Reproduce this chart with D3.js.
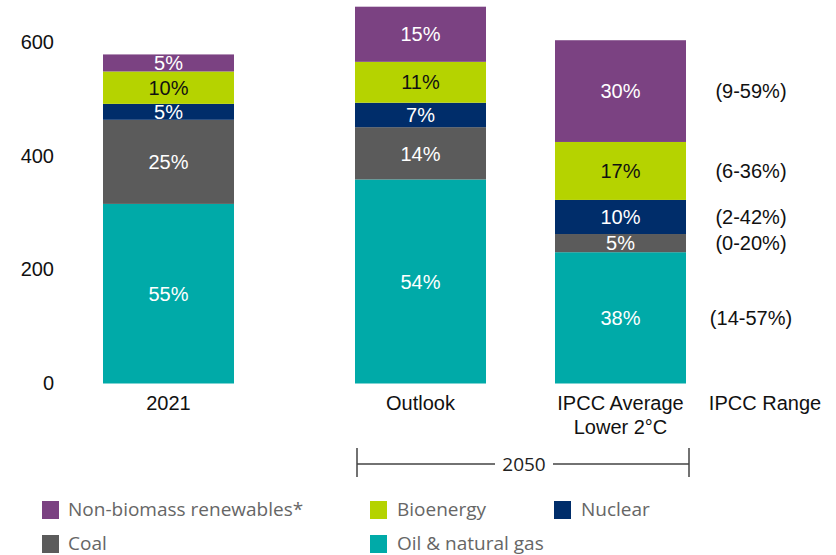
<!DOCTYPE html>
<html>
<head>
<meta charset="utf-8">
<script src="https://cdn.jsdelivr.net/npm/d3@7"></script>
<style>
  body { margin: 0; background: #fff; }
  svg { display: block; }
</style>
</head>
<body>
<div class="chart"></div>
<script>
// values (stacked bottom to top)
const categories = ["2021", "Outlook", "IPCC Average Lower 2°C"];
const oilGas     = [316, 359, 231];
const coal       = [148, 92, 32];
const nuclear    = [28, 43, 60];
const bioenergy  = [57, 72, 102];
const renewables = [30, 97, 179];

const oilGasPct     = ["55%", "54%", "38%"];
const coalPct       = ["25%", "14%", "5%"];
const nuclearPct    = ["5%", "7%", "10%"];
const bioenergyPct  = ["10%", "11%", "17%"];
const renewablesPct = ["5%", "15%", "30%"];

const ipccRange = ["(14-57%)", "(0-20%)", "(2-42%)", "(6-36%)", "(9-59%)"];
const yTicks = [0, 200, 400, 600];

const seriesNames = ["Oil & natural gas", "Coal", "Nuclear", "Bioenergy", "Non-biomass renewables*"];
const seriesValues = [oilGas, coal, nuclear, bioenergy, renewables];
const seriesPct = [oilGasPct, coalPct, nuclearPct, bioenergyPct, renewablesPct];
const colors = ["#00aaa8", "#5b5b5b", "#002d6a", "#b5d300", "#7b4282"];
const labelColors = ["#fff", "#fff", "#fff", "#111", "#fff"];

const width = 836, height = 555;
const font = "'Liberation Sans', Arial, sans-serif";
const legendFont = "'Open Sans', 'Noto Sans', sans-serif";

const svg = d3.select(".chart").append("svg")
    .attr("width", width)
    .attr("height", height);

const y = d3.scaleLinear().domain([0, 600]).range([383.5, 42.5]);
const xCenter = d3.scaleOrdinal().domain(categories).range([168.5, 420.5, 620.5]);
const barWidth = 131;
const rangeX = 751;

// stack the rows
const table = categories.map((c, i) => {
    const row = { cat: c };
    seriesNames.forEach((s, j) => row[s] = seriesValues[j][i]);
    return row;
});
const stacked = d3.stack().keys(seriesNames)(table);

// y axis labels only
svg.append("g")
    .attr("transform", "translate(54,0)")
    .call(d3.axisLeft(y).tickValues(yTicks).tickSize(0).tickPadding(0))
    .call(g => g.select(".domain").remove())
    .call(g => g.selectAll("text")
        .attr("dy", "0.3em")
        .attr("font-family", font)
        .attr("font-size", 20)
        .attr("fill", "#111"));

// bars
const layer = svg.append("g")
    .selectAll("g")
    .data(stacked)
    .join("g")
    .attr("fill", (d, i) => colors[i]);

layer.selectAll("rect")
    .data(d => d)
    .join("rect")
    .attr("x", d => xCenter(d.data.cat) - barWidth / 2)
    .attr("y", d => y(d[1]))
    .attr("width", barWidth)
    .attr("height", d => y(d[0]) - y(d[1]));

// share labels inside segments
stacked.forEach((s, i) => {
    svg.append("g")
        .selectAll("text")
        .data(s)
        .join("text")
        .attr("x", d => xCenter(d.data.cat))
        .attr("y", d => (y(d[0]) + y(d[1])) / 2)
        .attr("dy", "0.36em")
        .attr("text-anchor", "middle")
        .attr("font-family", font)
        .attr("font-size", 20)
        .attr("fill", labelColors[i])
        .text((d, k) => seriesPct[i][k]);
});

// IPCC range column, aligned to IPCC segments
const ipccStack = stacked.map(s => s[2]);
svg.append("g")
    .selectAll("text")
    .data(ipccStack)
    .join("text")
    .attr("x", rangeX)
    .attr("y", d => (y(d[0]) + y(d[1])) / 2)
    .attr("dy", "0.36em")
    .attr("text-anchor", "middle")
    .attr("font-family", font)
    .attr("font-size", 20)
    .attr("fill", "#111")
    .text((d, i) => ipccRange[i]);

// category labels
const catLines = [["2021"], ["Outlook"], ["IPCC Average", "Lower 2°C"]];
categories.forEach((c, i) => {
    const t = svg.append("text")
        .attr("x", xCenter(c))
        .attr("y", 410)
        .attr("text-anchor", "middle")
        .attr("font-family", font)
        .attr("font-size", 20)
        .attr("fill", "#111");
    catLines[i].forEach((line, k) => {
        t.append("tspan")
            .attr("x", xCenter(c))
            .attr("dy", k === 0 ? 0 : 23.5)
            .text(line);
    });
});
svg.append("text")
    .attr("x", 765)
    .attr("y", 410)
    .attr("text-anchor", "middle")
    .attr("font-family", font)
    .attr("font-size", 20)
    .attr("fill", "#111")
    .text("IPCC Range");

// 2050 bracket
const bx0 = xCenter("Outlook") - barWidth / 2 + 2, bx1 = xCenter(categories[2]) + barWidth / 2 + 3;
const by = 464;
const bracket = svg.append("g").attr("stroke", "#444").attr("stroke-width", 1.5).attr("fill", "none");
bracket.append("path").attr("d", `M${bx0},${by - 16}V${by + 13}M${bx1},${by - 16}V${by + 13}`);
bracket.append("path").attr("d", `M${bx0},${by}H495M553,${by}H${bx1}`);
svg.append("text")
    .attr("x", 524)
    .attr("y", by)
    .attr("dy", "0.36em")
    .attr("text-anchor", "middle")
    .attr("font-family", legendFont)
    .attr("font-size", 19)
    .attr("fill", "#222")
    .text("2050");

// legend
const legendOrder = [4, 3, 2, 1, 0];
const legendPos = [[42, 510], [370, 510], [554, 510], [42, 544], [370, 544]];
const legend = svg.append("g")
    .selectAll("g")
    .data(legendOrder)
    .join("g")
    .attr("transform", (d, i) => `translate(${legendPos[i][0]},${legendPos[i][1]})`);
legend.append("rect")
    .attr("x", 0)
    .attr("y", -9)
    .attr("width", 17)
    .attr("height", 18)
    .attr("fill", d => colors[d]);
legend.append("text")
    .attr("x", (d, i) => i === 0 || i === 3 ? 26 : 27)
    .attr("dy", "0.33em")
    .attr("font-family", legendFont)
    .attr("font-size", 19)
    .attr("fill", "#666")
    .text(d => seriesNames[d]);
</script>
</body>
</html>
